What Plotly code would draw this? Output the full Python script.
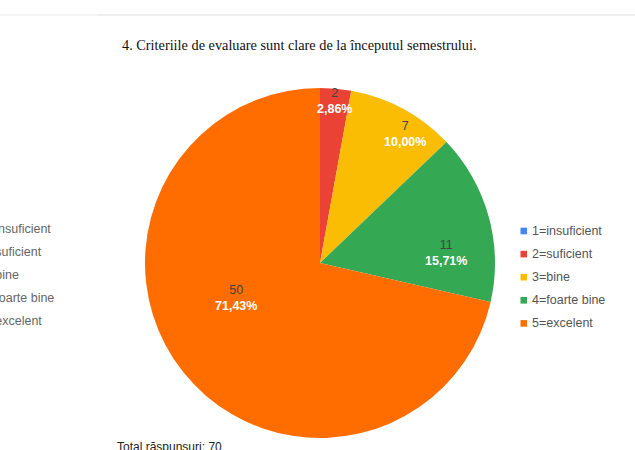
import math

import plotly.graph_objects as go

# ── Data ──────────────────────────────────────────────────────────────
TITLE = "4. Criteriile de evaluare sunt clare de la începutul semestrului."
LABELS = ["1=insuficient", "2=suficient", "3=bine", "4=foarte bine", "5=excelent"]
COUNTS = [0, 2, 7, 11, 50]
PERCENT_TEXT = ["0,00%", "2,86%", "10,00%", "15,71%", "71,43%"]
TOTAL_TEXT = "Total răspunsuri: 70"

COLORS = ["#4285F4", "#EA4335", "#FBBC04", "#34A853", "#FF6D01"]

W, H = 635, 450
CX, CY, R = 320, 263, 175  # pie centre / radius in px

# label placement per slice: (radius fraction, angle shift in degrees)
LABEL_PLACE = [None, (0.93, 0.0), (0.88, 5.0), (0.72, 11.0), (0.52, 16.0)]

SANS = "Arial, Liberation Sans, sans-serif"


def px(x):
    return x / W


def py(y):
    return 1 - y / H


fig = go.Figure(
    go.Pie(
        labels=LABELS,
        values=COUNTS,
        sort=False,
        direction="clockwise",
        rotation=0,
        marker={"colors": COLORS, "line": {"width": 0}},
        textinfo="none",
        showlegend=False,
        hovertemplate="%{label}<br>%{value} (%{percent})<extra></extra>",
        domain={"x": [px(CX - R), px(CX + R)], "y": [py(CY + R), py(CY - R)]},
    )
)

annotations = []

# ── Slice labels (count + percentage) ─────────────────────────────────
total = sum(COUNTS)
cum = 0
for i, v in enumerate(COUNTS):
    start = cum
    cum += v
    if v == 0:
        continue
    frac, shift = LABEL_PLACE[i]
    ang = math.radians((start + v / 2) / total * 360 + shift)
    lx = CX + frac * R * math.sin(ang)
    ly = CY - frac * R * math.cos(ang)
    annotations.append(dict(
        x=px(lx), y=py(ly), xref="paper", yref="paper",
        text=f"<span style='color:#444'>{v}</span><br><b>{PERCENT_TEXT[i]}</b>",
        showarrow=False, font={"family": SANS, "size": 12.5, "color": "white"},
        xanchor="center", yanchor="middle",
    ))

# ── Legend (right) ────────────────────────────────────────────────────
shapes = []
row0, step = 231, 23.1
for i, lab in enumerate(LABELS):
    yc = row0 + i * step
    shapes.append(dict(
        type="rect", xref="paper", yref="paper",
        x0=px(520.5), x1=px(527), y0=py(yc + 3.3), y1=py(yc - 3.3),
        fillcolor=COLORS[i], line={"width": 0},
    ))
    annotations.append(dict(
        x=px(530), y=py(yc), xref="paper", yref="paper", text=lab,
        showarrow=False, xanchor="left", yanchor="middle",
        font={"family": SANS, "size": 12.5, "color": "#555"},
    ))
    # clipped copy of the legend at the left edge (screenshot artefact)
    annotations.append(dict(
        x=px(-21), y=py(yc - 2.5), xref="paper", yref="paper", text=lab,
        showarrow=False, xanchor="left", yanchor="middle",
        font={"family": SANS, "size": 12.5, "color": "#666"},
    ))

# ── Title / footer ────────────────────────────────────────────────────
annotations.append(dict(
    x=px(299), y=py(45), xref="paper", yref="paper", text=TITLE,
    showarrow=False, xanchor="center", yanchor="middle",
    font={"family": "Liberation Serif, Times New Roman, serif", "size": 14.3, "color": "#111"},
))
annotations.append(dict(
    x=px(115), y=py(447), xref="paper", yref="paper", text=TOTAL_TEXT,
    showarrow=False, xanchor="left", yanchor="middle",
    font={"family": SANS, "size": 12, "color": "#222"},
))

# thin divider at the top
shapes.append(dict(type="line", xref="paper", yref="paper",
                   x0=0, x1=px(97), y0=py(15), y1=py(15),
                   line={"color": "#ececec", "width": 1}))
shapes.append(dict(type="line", xref="paper", yref="paper",
                   x0=px(97), x1=1, y0=py(15), y1=py(15),
                   line={"color": "#e0e0e0", "width": 1}))

fig.update_layout(
    width=W,
    height=H,
    margin={"l": 0, "r": 0, "t": 0, "b": 0},
    paper_bgcolor="white",
    plot_bgcolor="white",
    annotations=annotations,
    shapes=shapes,
)

# drop the default 8px body margin so the figure fills the window exactly
fig.write_html(
    "out.html",
    config={"displayModeBar": False},
    post_script="document.body.style.margin='0';",
)
